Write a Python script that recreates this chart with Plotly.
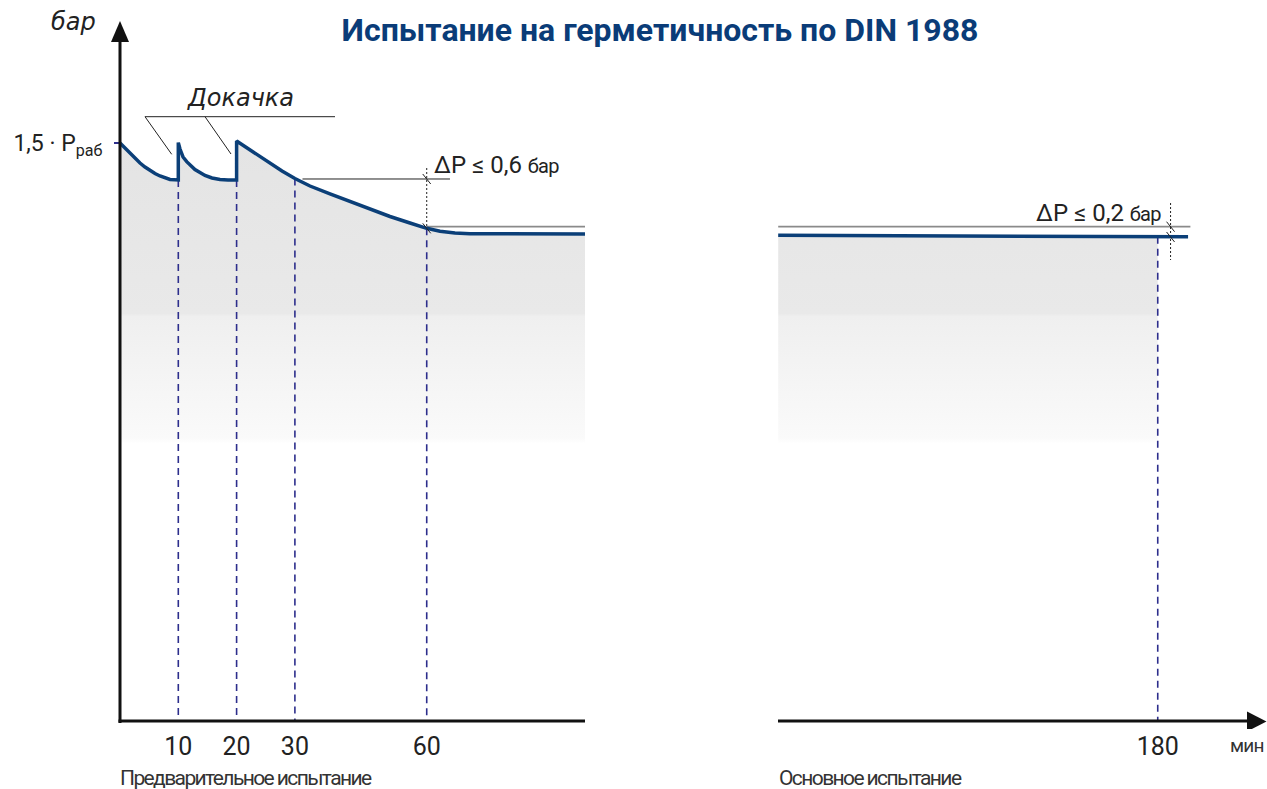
import plotly.graph_objects as go

# ---------------- data (schematic units) ----------------
# x: schematic time position (diagram is not drawn to scale), y: pressure, 1.5 = 1,5·Pраб
prelim_x = [0, 0.858, 1.715, 2.573, 3.431, 4.288, 5.146, 6.003, 6.861, 7.719, 8.576, 10.0,
            10.0, 10.29, 10.81, 11.44, 12.01, 12.86, 13.72, 14.58, 15.78, 17.15, 18.52, 20.0,
            20.0, 22.64, 25.21, 27.79, 30.0, 32.59, 36.02, 39.45, 42.88, 46.31, 49.74, 52.61,
            54.89, 57.46, 60.03, 65.18, 79.76]
prelim_y = [1.500, 1.487, 1.4728, 1.4598, 1.4481, 1.4377, 1.4287, 1.4209, 1.4144, 1.4092,
            1.4053, 1.404,
            1.501, 1.4844, 1.4637, 1.4515, 1.4429, 1.4313, 1.4235, 1.4157, 1.4092, 1.4053,
            1.404, 1.404,
            1.5052, 1.478, 1.452, 1.4273, 1.4079, 1.3884, 1.3677, 1.3482, 1.3287, 1.3093,
            1.2924, 1.2786, 1.2711, 1.2665, 1.2644, 1.2638, 1.2638]
main_x = [112.9, 133.8, 159.5, 178.0, 181.0, 183.2]
main_y = [1.2605, 1.2595, 1.2580, 1.2565, 1.2561, 1.2566]

tick_pos = [10, 20, 30, 52.61, 178.0]
tick_labels = ["10", "20", "30", "60", "180"]
tick_levels = [1.404, 1.404, 1.4079, 1.2786, 1.2565]   # curve level at each marked time

p_test = 1.5
p_test_label = "1,5 · P<sub>раб</sub>"

dp1_x, dp1_top, dp1_bottom = 52.61, 1.4066, 1.2786   # ΔP ≤ 0,6 бар
dp1_ref_start, dp1_ref_end = 31.3, 56.6
dp1_end_x = 79.76
dp2_x, dp2_top, dp2_bottom = 180.2, 1.2828, 1.2561   # ΔP ≤ 0,2 бар
dp2_ref_start, dp2_ref_end = 112.9, 183.6
fill_end_main = 178.0

title_text = "Испытание на герметичность по DIN 1988"

# ---------------- geometry helpers (decorations only) ----------------
PXU = 5.83        # px per x unit
PYU = 385.33      # px per y unit
def X(px): return (px - 120) / PXU
def Y(py): return (721 - py) / PYU

ML, MR, MT, MB = 100, 0, 10, 60
W, H = 1267, 789
plot_w = W - ML - MR
plot_h = H - MT - MB
def PX(px): return (px - ML) / plot_w          # paper x
def PY(py): return (H - MB - py) / plot_h      # paper y

NAVY = "#0b3f78"
DASH = "#2d2e8c"
TXT = "#222222"
SANS = "Roboto, sans-serif"

grad = dict(type="vertical", start=0, stop=1.5,
            colorscale=[[0, "#ffffff"], [0.48, "#ffffff"], [0.49, "#fafafa"],
                        [0.70, "#efefef"], [0.705, "#e9e9e9"], [1, "#e4e4e4"]])

fig = go.Figure()

# fills
fig.add_trace(go.Scatter(x=prelim_x, y=prelim_y, mode="lines", line=dict(width=0),
                         fill="tozeroy", fillgradient=grad, hoverinfo="skip"))
mx = [x for x in main_x if x <= fill_end_main]
my = [y for x, y in zip(main_x, main_y) if x <= fill_end_main]
fig.add_trace(go.Scatter(x=mx, y=my, mode="lines", line=dict(width=0),
                         fill="tozeroy", fillgradient=grad, hoverinfo="skip"))

# dashed verticals at marked times
dx, dy = [], []
for p, lv in zip(tick_pos, tick_levels):
    dx += [p, p, None]
    dy += [lv, 0, None]
fig.add_trace(go.Scatter(x=dx, y=dy, mode="lines",
                         line=dict(color=DASH, width=1.6, dash="7px,5px"), hoverinfo="skip"))

# reference (gray) lines
fig.add_trace(go.Scatter(x=[dp1_x, dp1_end_x, None, dp2_ref_start, dp2_ref_end],
                         y=[dp2_top, dp2_top, None, dp2_top, dp2_top], mode="lines",
                         line=dict(color="#8a8a8a", width=1.8), hoverinfo="skip"))
# black dimension line at top of ΔP 0,6
fig.add_trace(go.Scatter(x=[dp1_ref_start, dp1_ref_end], y=[dp1_top, dp1_top], mode="lines",
                         line=dict(color="#222", width=1), hoverinfo="skip"))
# dotted dimension verticals
fig.add_trace(go.Scatter(x=[dp1_x, dp1_x, None, dp2_x, dp2_x],
                         y=[Y(168), dp1_bottom, None, Y(203), Y(260)], mode="lines",
                         line=dict(color="#222", width=1, dash="2px,2px"), hoverinfo="skip"))

# curves
fig.add_trace(go.Scatter(x=prelim_x, y=prelim_y, mode="lines",
                         line=dict(color=NAVY, width=3.5), hoverinfo="skip"))
fig.add_trace(go.Scatter(x=main_x, y=main_y, mode="lines",
                         line=dict(color=NAVY, width=3.5), hoverinfo="skip"))

# "Докачка" leader lines
fig.add_trace(go.Scatter(x=[X(335), X(145), X(171.7), None, X(205), X(231)],
                         y=[Y(116.7), Y(116.7), Y(154.3), None, Y(116.7), Y(154)],
                         mode="lines", line=dict(color="#222", width=1), hoverinfo="skip"))

shapes = []
# axes
shapes.append(dict(type="line", x0=0, x1=0, y0=Y(723), y1=Y(38), line=dict(color="#111", width=3)))
shapes.append(dict(type="line", x0=X(118.5), x1=X(585), y0=0, y1=0, line=dict(color="#111", width=3)))
shapes.append(dict(type="line", x0=X(778), x1=X(1250), y0=0, y1=0, line=dict(color="#111", width=3)))
shapes.append(dict(type="path",
                   path=f"M {X(111)},{Y(42)} L {X(120)},{Y(21)} L {X(129)},{Y(42)} Z",
                   fillcolor="#111", line=dict(width=0)))
shapes.append(dict(type="path",
                   path=f"M {X(1247)},{Y(711.5)} L {X(1266.5)},{Y(721.5)} L {X(1247)},{Y(731.5)} Z",
                   fillcolor="#111", line=dict(width=0)))
# slash ticks on dimension lines
for sx, sy in [(dp1_x, dp1_top), (dp1_x, dp1_bottom), (dp2_x, dp2_top), (dp2_x, dp2_bottom)]:
    shapes.append(dict(type="line", xsizemode="pixel", ysizemode="pixel",
                       xanchor=sx, yanchor=sy, x0=-4, x1=4, y0=5, y1=-5,
                       line=dict(color="#222", width=1)))

ann = []
def txt(px, py, s, size, xanchor="center", family=SANS, color=TXT):
    ann.append(dict(x=PX(px), y=PY(py), xref="paper", yref="paper", text=s, showarrow=False,
                    xanchor=xanchor, yanchor="middle",
                    font=dict(size=size, family=family, color=color)))

def narrow(s, ls):
    return f"<span style='letter-spacing:{ls}px'>{s}</span>"

txt(73, 22, "<i>бар</i>", 24, family="DejaVu Sans, sans-serif")
txt(240, 98, "<i>Докачка</i>", 24, family="DejaVu Sans, sans-serif")
txt(432, 165, "ΔP ≤ 0,6 <span style='font-size:20px;letter-spacing:-0.8px'>бар</span>", 24, xanchor="left")
txt(1163, 213, "ΔP ≤ 0,2 <span style='font-size:20px;letter-spacing:-0.8px'>бар</span>", 24, xanchor="right")
txt(1266, 745, narrow("мин", -0.8), 19, xanchor="right", color="#333")
txt(118, 778, narrow("Предварительное испытание", -1.6), 21, xanchor="left", color="#333")
txt(777, 778, narrow("Основное испытание", -1.6), 21, xanchor="left", color="#333")

fig.update_layout(
    width=W, height=H,
    margin=dict(l=ML, r=MR, t=MT, b=MB),
    paper_bgcolor="white", plot_bgcolor="white",
    showlegend=False,
    title=dict(text=f"<b>{title_text}</b>", x=660 / W, y=1 - 30 / H, xref="container",
               yref="container", xanchor="center", yanchor="middle",
               font=dict(size=32, family="Roboto, Arial, sans-serif", color="#0a3c78")),
    xaxis=dict(range=[X(ML), X(W - MR)], showgrid=False, zeroline=False, showline=False,
               tickvals=tick_pos, ticktext=tick_labels, ticks="", ticklabelstandoff=8,
               tickfont=dict(size=25, family=SANS, color=TXT),
               anchor="free", position=PY(721)),
    yaxis=dict(range=[Y(H - MB), Y(MT)], showgrid=False, zeroline=False, showline=False,
               tickvals=[p_test], ticktext=[p_test_label], ticks="outside", ticklen=6,
               tickwidth=1.5, tickcolor=DASH, ticklabelstandoff=7,
               tickfont=dict(size=23, family=SANS, color=TXT),
               anchor="free", position=PX(120)),
    shapes=shapes, annotations=ann,
)

fig.write_html("out.html", config={"displayModeBar": False},
               post_script="document.body.style.margin='0';")
